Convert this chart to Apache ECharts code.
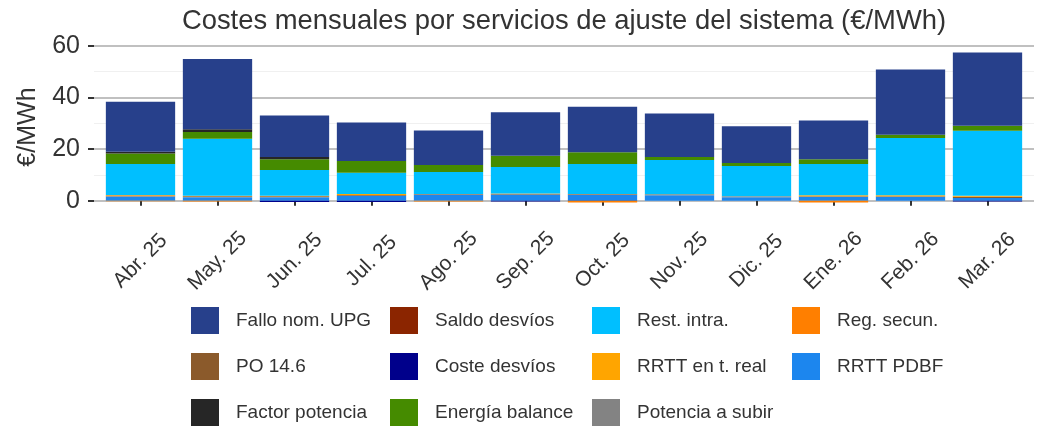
<!DOCTYPE html>
<html>
<head>
<meta charset="utf-8">
<script src="https://cdn.jsdelivr.net/npm/echarts@6/dist/echarts.min.js"></script>
<style>
    html, body { margin: 0; padding: 0; background: #fff; }
    #main { width: 1051px; height: 426px; }
</style>
</head>
<body>
<div id="main"></div>
<script>
// meses
var months = ['Abr. 25', 'May. 25', 'Jun. 25', 'Jul. 25', 'Ago. 25', 'Sep. 25',
    'Oct. 25', 'Nov. 25', 'Dic. 25', 'Ene. 26', 'Feb. 26', 'Mar. 26'];

// €/MWh por servicio
var rrttPdbf       = [1.5, 1.3, 1.3, 1.8, 2.2, 2.2, 2.2, 2.1, 1.3, 1.4, 1.4, 1.0];
var potenciaSubir  = [0.2, 0.1, 0.1, 0.1, 0.3, 0.3, 0.2, 0.2, 0.3, 0.1, 0.1, 0.0];
var po146          = [0.3, 0.3, 0.3, 0.3, 0.1, 0.2, 0.2, 0.2, 0.1, 0.2, 0.2, 0.5];
var rrttReal       = [0.2, 0.2, 0.2, 0.4, 0.0, 0.1, 0.0, 0.0, 0.0, 0.4, 0.4, 0.4];
var costeDesvios   = [0, 0, -0.5, -0.5, 0, -0.3, 0, 0, 0, 0, 0, -0.3];
var saldoDesvios   = [0, 0, 0, 0, 0, 0, -0.1, 0, 0, 0, 0, 0];
var regSecun       = [-0.2, -0.3, 0, 0, -0.3, 0, -0.6, 0, 0, -0.7, 0, 0];
var restIntra      = [12.0, 22.1, 10.0, 8.2, 8.5, 10.2, 11.6, 13.2, 11.7, 12.1, 22.2, 25.2];
var energiaBalance = [4.1, 2.6, 4.1, 4.6, 2.7, 4.4, 4.5, 1.2, 1.2, 1.8, 1.2, 1.9];
var factorPotencia = [0.6, 1.0, 0.9, 0, 0, 0, 0, 0, 0, 0, 0, 0];
var falloUpg       = [19.4, 27.2, 16.1, 14.9, 13.4, 16.8, 17.7, 16.8, 14.2, 15.0, 25.3, 28.4];

var yTicks = [0, 20, 40, 60];

var font = 'Liberation Sans, Arial, sans-serif';

// orden de apilado (de abajo a arriba)
var stackSeries = [
    {name: 'RRTT PDBF', data: rrttPdbf, color: '#1C86EE'},
    {name: 'Potencia a subir', data: potenciaSubir, color: '#838383'},
    {name: 'PO 14.6', data: po146, color: '#8B5A2B'},
    {name: 'RRTT en t. real', data: rrttReal, color: '#FFA500'},
    {name: 'Coste desvíos', data: costeDesvios, color: '#00008B'},
    {name: 'Saldo desvíos', data: saldoDesvios, color: '#8B2500'},
    {name: 'Reg. secun.', data: regSecun, color: '#FF7F00'},
    {name: 'Rest. intra.', data: restIntra, color: '#00BFFF'},
    {name: 'Energía balance', data: energiaBalance, color: '#458B00'},
    {name: 'Factor potencia', data: factorPotencia, color: '#262626'},
    {name: 'Fallo nom. UPG', data: falloUpg, color: '#27408B'}
];

var legendCols = [
    ['Fallo nom. UPG', 'PO 14.6', 'Factor potencia'],
    ['Saldo desvíos', 'Coste desvíos', 'Energía balance'],
    ['Rest. intra.', 'RRTT en t. real', 'Potencia a subir'],
    ['Reg. secun.', 'RRTT PDBF']
];
var legendLeft = [191, 390, 592, 792];

var series = stackSeries.map(function (s) {
    return {
        name: s.name,
        type: 'bar',
        stack: 'total',
        xAxisIndex: 1,
        yAxisIndex: 1,
        barCategoryGap: '10%',
        itemStyle: {color: s.color},
        data: s.data
    };
});

var legends = legendCols.map(function (col, i) {
    return {
        orient: 'vertical',
        left: legendLeft[i],
        top: 307,
        height: 130,
        padding: 0,
        data: col,
        icon: 'rect',
        itemWidth: 28,
        itemHeight: 27,
        itemGap: 19,
        selectedMode: false,
        textStyle: {
            fontFamily: font,
            fontSize: 19,
            color: '#333',
            padding: [0, 0, 0, 12]
        }
    };
});

var option = {
    backgroundColor: '#fff',
    animation: false,
    title: {
        text: 'Costes mensuales por servicios de ajuste del sistema (€/MWh)',
        left: 559,
        textAlign: 'center',
        top: 3,
        textStyle: {
            fontFamily: font,
            fontSize: 27.4,
            fontWeight: 'normal',
            color: '#333'
        }
    },
    legend: legends,
    grid: [
        // rejilla con las lineas de referencia
        {left: 94, width: 940, top: 45.7, height: 155},
        // rejilla de las barras (rango -4 a 61)
        {left: 102, width: 924, top: 43.1, height: 167.9}
    ],
    xAxis: [
        {
            type: 'value',
            gridIndex: 0,
            show: false
        },
        {
            type: 'category',
            gridIndex: 1,
            data: months,
            axisLine: {show: false},
            axisTick: {
                show: true,
                alignWithLabel: true,
                length: 5,
                lineStyle: {color: '#333', width: 2}
            },
            axisLabel: {
                rotate: 45,
                interval: 0,
                align: 'center',
                verticalAlign: 'middle',
                margin: 50,
                fontFamily: font,
                fontSize: 21,
                color: '#333'
            }
        }
    ],
    yAxis: [
        {
            type: 'value',
            gridIndex: 0,
            min: 0,
            max: 60,
            interval: 20,
            axisLine: {show: false},
            axisTick: {
                show: true,
                length: 6,
                lineStyle: {color: '#333', width: 2}
            },
            axisLabel: {
                margin: 14,
                fontFamily: font,
                fontSize: 25,
                color: '#333',
                formatter: function (v) {
                    return yTicks.indexOf(v) >= 0 ? String(v) : '';
                }
            },
            splitLine: {show: true, lineStyle: {color: '#ababab', width: 1.5}},
            minorTick: {show: false, splitNumber: 2},
            minorSplitLine: {show: true, lineStyle: {color: '#f0f0f0', width: 1}}
        },
        {
            type: 'value',
            gridIndex: 1,
            min: -4,
            max: 61,
            name: '€/MWh',
            nameLocation: 'middle',
            nameRotate: 90,
            nameGap: 61,
            nameTextStyle: {
                fontFamily: font,
                fontSize: 25,
                color: '#333'
            },
            axisLine: {show: false},
            axisTick: {show: false},
            axisLabel: {show: false},
            splitLine: {show: false}
        }
    ],
    series: series
};

var myChart = echarts.init(document.getElementById('main'));
myChart.setOption(option);
</script>
</body>
</html>
